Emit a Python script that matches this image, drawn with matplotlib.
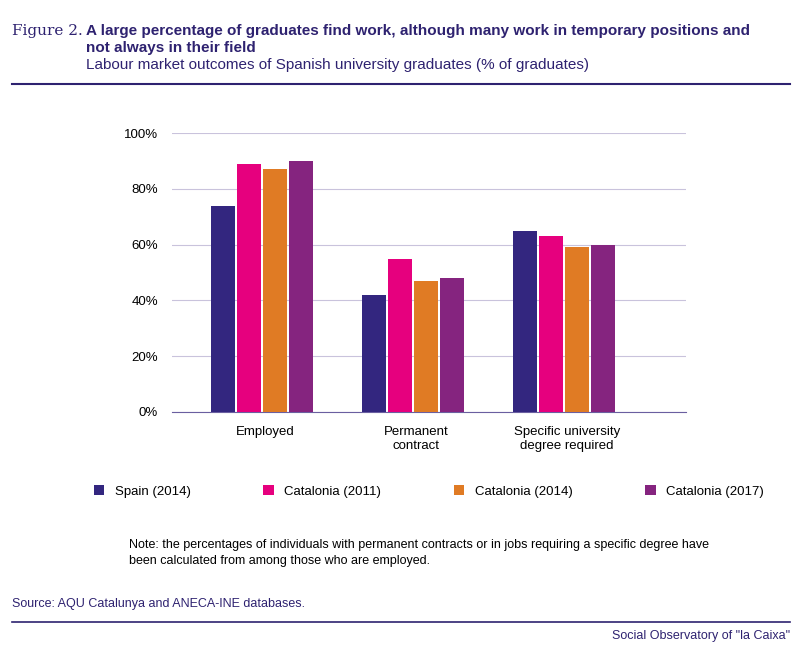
import matplotlib
matplotlib.use("Agg")
import matplotlib.pyplot as plt
from matplotlib.lines import Line2D
import numpy as np

plt.rcParams['font.family'] = ['Liberation Sans', 'DejaVu Sans']

categories = ["Employed", "Permanent\ncontract", "Specific university\ndegree required"]
series_names = ["Spain (2014)", "Catalonia (2011)", "Catalonia (2014)", "Catalonia (2017)"]
spain_2014 = [74, 42, 65]
catalonia_2011 = [89, 55, 63]
catalonia_2014 = [87, 47, 59]
catalonia_2017 = [90, 48, 60]
yticks = [0, 20, 40, 60, 80, 100]
colors = ["#33267f", "#e6007e", "#e07b24", "#85247f"]
navy = "#2e2270"

W, H = 800, 650
fig = plt.figure(figsize=(8, 6.5), dpi=100)
ax = fig.add_axes([172/W, 1-412/H, (686-172)/W, (412-133)/H])
x = np.arange(len(categories))
off = 0.172
for i, (vals, c, n) in enumerate(zip([spain_2014, catalonia_2011, catalonia_2014, catalonia_2017], colors, series_names)):
    ax.bar(x + (i-1.5)*off - 0.02, vals, width=0.16, color=c, label=n, zorder=3)
ax.set_xlim(-0.616, 2.79)
ax.set_ylim(0, 100)
ax.set_yticks(yticks)
ax.set_yticklabels([f"{v}%" for v in yticks], fontsize=9.5)
ax.set_xticks(x)
ax.set_xticklabels(categories, fontsize=9.5)
ax.tick_params(length=0, pad=10)
ax.grid(axis="y", color="#c9c3dc", lw=0.8, zorder=0)
for s in ["top", "right", "left"]:
    ax.spines[s].set_visible(False)
ax.spines["bottom"].set_color("#6a5fa0")
ax.legend(loc="upper center", bbox_to_anchor=(0.5, -0.22), ncol=4, frameon=False,
          fontsize=9.5, handlelength=0.8, handleheight=0.8, columnspacing=5.5)

fig.text(12/W, 1-31/H, "Figure 2.", fontsize=11, color=navy, family="DejaVu Serif", va="center")
fig.text(86/W, 1-31/H, "A large percentage of graduates find work, although many work in temporary positions and",
         fontsize=11, fontweight="bold", color=navy, va="center")
fig.text(86/W, 1-48/H, "not always in their field", fontsize=11, fontweight="bold", color=navy, va="center")
fig.text(86/W, 1-65/H, "Labour market outcomes of Spanish university graduates (% of graduates)",
         fontsize=11, color=navy, va="center")
fig.add_artist(Line2D([12/W, 790/W], [1-84/H]*2, color=navy, lw=1.5))
fig.text(129/W, 1-553/H, "Note: the percentages of individuals with permanent contracts or in jobs requiring a specific degree have\nbeen calculated from among those who are employed.",
         fontsize=9, va="center", linespacing=1.4)
fig.text(12/W, 1-604/H, "Source: AQU Catalunya and ANECA-INE databases.", fontsize=9, color=navy, va="center")
fig.add_artist(Line2D([12/W, 790/W], [1-622/H]*2, color=navy, lw=1.2))
fig.text(790/W, 1-636/H, "Social Observatory of \"la Caixa\"", fontsize=9, color=navy, va="center", ha="right")
fig.savefig("out.png", dpi=100)
